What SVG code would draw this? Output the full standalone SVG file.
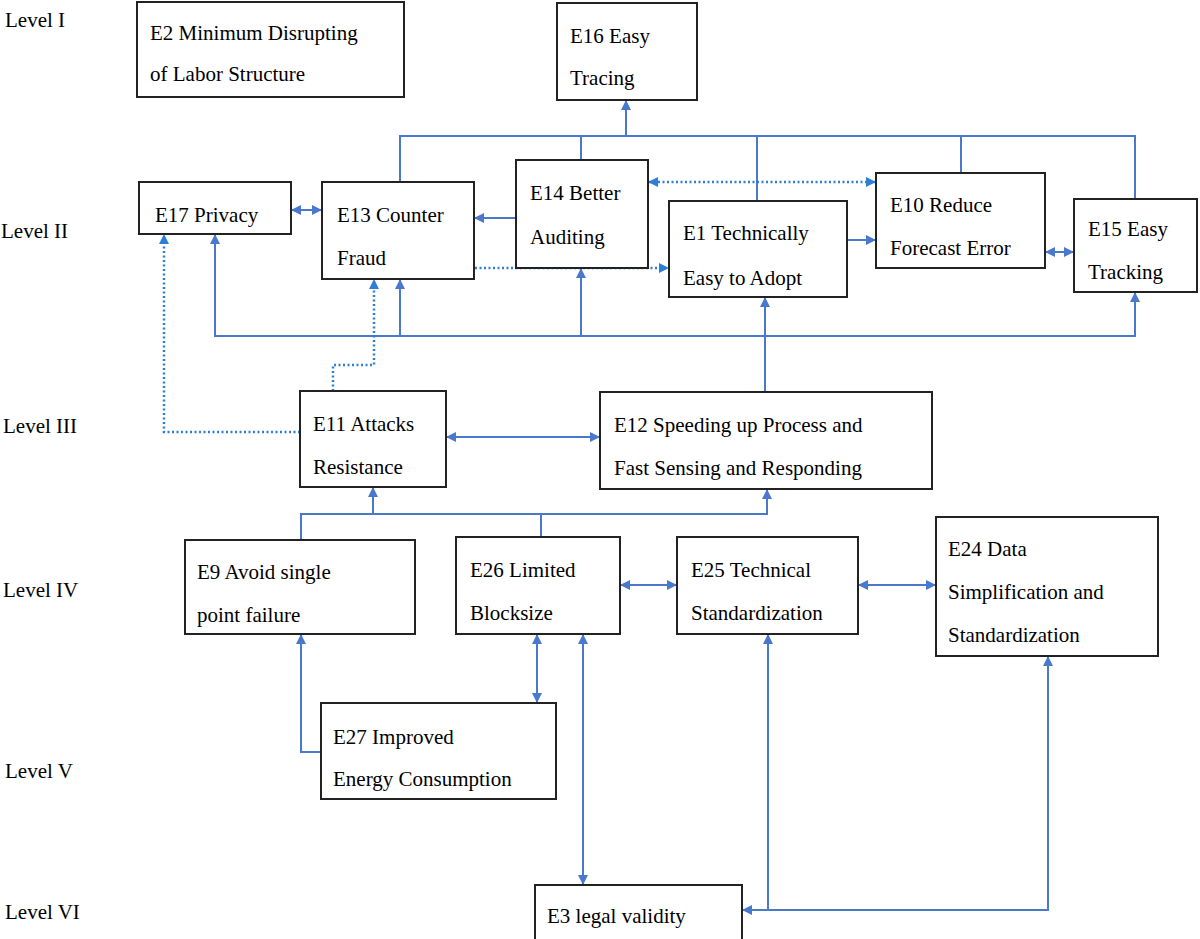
<svg xmlns="http://www.w3.org/2000/svg" width="1200" height="939" viewBox="0 0 1200 939">
<style>
.b{fill:#fff;stroke:#222;stroke-width:2}
text{font-family:"Liberation Serif",serif;font-size:21px;fill:#000}
.c{fill:none;stroke:#4a78cc;stroke-width:2}
.d{fill:none;stroke:#2c7fd4;stroke-width:2.5;stroke-dasharray:2,2.5}
</style>
<defs>
<marker id="a" viewBox="0 0 10 10" refX="9" refY="5" markerWidth="5" markerHeight="5" orient="auto-start-reverse"><path d="M0,0L10,5L0,10z" fill="#4a78cc"/></marker>
<marker id="ad" viewBox="0 0 10 10" refX="9" refY="5" markerWidth="4" markerHeight="4" orient="auto-start-reverse"><path d="M0,0L10,5L0,10z" fill="#2c7fd4"/></marker>
</defs>
<rect width="1200" height="939" fill="#fff"/>
<g id="levels">
<text x="5" y="27">Level I</text>
<text x="1" y="238">Level II</text>
<text x="3" y="433">Level III</text>
<text x="3" y="597">Level IV</text>
<text x="5" y="778">Level V</text>
<text x="5" y="919">Level VI</text>
</g>
<g id="connectors">
<path class="c" d="M400,182V136H1135V199M581,160V136M757,201V136M961,173V136"/>
<path class="c" d="M626,136V101" marker-end="url(#a)"/>
<path class="c" d="M292,210H321" marker-start="url(#a)" marker-end="url(#a)"/>
<path class="c" d="M516,218H475" marker-end="url(#a)"/>
<path class="d" d="M649,182H875" marker-start="url(#ad)" marker-end="url(#ad)"/>
<path class="d" d="M475,268H668" marker-end="url(#ad)"/>
<path class="c" d="M847,240H875" marker-end="url(#a)"/>
<path class="c" d="M1046,252H1073" marker-start="url(#a)" marker-end="url(#a)"/>
<path class="c" d="M215,235V336H1135V293"  marker-start="url(#a)" marker-end="url(#a)"/>
<path class="c" d="M400,336V280" marker-end="url(#a)"/>
<path class="c" d="M581,336V269" marker-end="url(#a)"/>
<path class="c" d="M765,391V298" marker-end="url(#a)"/>
<path class="d" d="M300,432H164V235" marker-end="url(#ad)"/>
<path class="d" d="M333,391V365H374V280" marker-end="url(#ad)"/>
<path class="c" d="M447,437H599" marker-start="url(#a)" marker-end="url(#a)"/>
<path class="c" d="M301,540V514H767V490" marker-end="url(#a)"/>
<path class="c" d="M373,514V488" marker-end="url(#a)"/>
<path class="c" d="M541,537V514"/>
<path class="c" d="M621,585H676" marker-start="url(#a)" marker-end="url(#a)"/>
<path class="c" d="M859,585H935" marker-start="url(#a)" marker-end="url(#a)"/>
<path class="c" d="M537,635V702" marker-start="url(#a)" marker-end="url(#a)"/>
<path class="c" d="M583,635V884" marker-start="url(#a)" marker-end="url(#a)"/>
<path class="c" d="M321,752H301V635" marker-end="url(#a)"/>
<path class="c" d="M1048,657V910H743" marker-start="url(#a)" marker-end="url(#a)"/>
<path class="c" d="M768,910V635" marker-end="url(#a)"/>
</g>
<g id="E2"><rect class="b" x="137" y="2" width="267" height="95"/><text x="150" y="40">E2 Minimum Disrupting</text><text x="150" y="81">of Labor Structure</text></g>
<g id="E16"><rect class="b" x="557" y="3" width="140" height="97"/><text x="570" y="43">E16 Easy</text><text x="570" y="85">Tracing</text></g>
<g id="E17"><rect class="b" x="139" y="182" width="152" height="52"/><text x="155" y="222">E17 Privacy</text></g>
<g id="E13"><rect class="b" x="322" y="182" width="152" height="97"/><text x="337" y="222">E13 Counter</text><text x="337" y="265">Fraud</text></g>
<g id="E14"><rect class="b" x="516" y="160" width="132" height="108"/><text x="530" y="200">E14 Better</text><text x="530" y="244">Auditing</text></g>
<g id="E1"><rect class="b" x="669" y="201" width="178" height="96"/><text x="683" y="240">E1 Technically</text><text x="683" y="285">Easy to Adopt</text></g>
<g id="E10"><rect class="b" x="876" y="173" width="169" height="95"/><text x="890" y="212">E10 Reduce</text><text x="890" y="255">Forecast Error</text></g>
<g id="E15"><rect class="b" x="1074" y="199" width="123" height="93"/><text x="1088" y="236">E15 Easy</text><text x="1088" y="279">Tracking</text></g>
<g id="E11"><rect class="b" x="300" y="391" width="146" height="96"/><text x="313" y="431">E11 Attacks</text><text x="313" y="474">Resistance</text></g>
<g id="E12"><rect class="b" x="600" y="392" width="332" height="97"/><text x="614" y="432">E12 Speeding up Process and</text><text x="614" y="475">Fast Sensing and Responding</text></g>
<g id="E9"><rect class="b" x="185" y="540" width="230" height="94"/><text x="197" y="579">E9 Avoid single</text><text x="197" y="622">point failure</text></g>
<g id="E26"><rect class="b" x="456" y="537" width="164" height="97"/><text x="470" y="577">E26 Limited</text><text x="470" y="620">Blocksize</text></g>
<g id="E25"><rect class="b" x="677" y="537" width="181" height="97"/><text x="691" y="577">E25 Technical</text><text x="691" y="620">Standardization</text></g>
<g id="E24"><rect class="b" x="936" y="517" width="222" height="139"/><text x="948" y="556">E24 Data</text><text x="948" y="599">Simplification and</text><text x="948" y="642">Standardization</text></g>
<g id="E27"><rect class="b" x="321" y="703" width="235" height="96"/><text x="333" y="744">E27 Improved</text><text x="333" y="786">Energy Consumption</text></g>
<g id="E3"><rect class="b" x="535" y="885" width="207" height="60"/><text x="547" y="923">E3 legal validity</text></g>
</svg>
